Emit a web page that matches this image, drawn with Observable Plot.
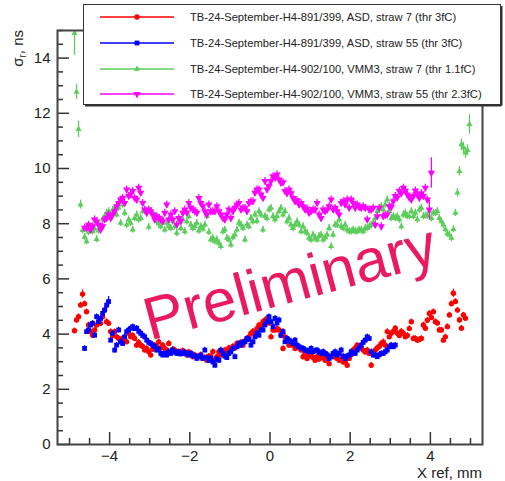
<!DOCTYPE html>
<html><head><meta charset="utf-8">
<script src="https://cdn.jsdelivr.net/npm/d3@7"></script>
<script src="https://cdn.jsdelivr.net/npm/@observablehq/plot@0.6"></script>
<style>
html,body{margin:0;padding:0;background:#fff;}
#wrap{position:relative;width:505px;height:481px;overflow:hidden;font-family:"Liberation Sans",Arial,sans-serif;background:#fff;}
#legend{position:absolute;left:83px;top:4px;}
</style></head><body><div id="wrap"></div>
<script>
// ---------- data (bin centres every 0.05 mm) ----------
const binWidth = 0.05;
const seriesLabels = [
  "TB-24-September-H4-891/399, ASD, straw 7 (thr 3fC)",
  "TB-24-September-H4-891/399, ASD, straw 55 (thr 3fC)",
  "TB-24-September-H4-902/100, VMM3, straw 7 (thr 1.1fC)",
  "TB-24-September-H4-902/100, VMM3, straw 55 (thr 2.3fC)"
];
const seriesColors = ["#ff0000", "#0000ff", "#5ccd5c", "#ff00ff"];
const seriesSymbols = ["circle", "square", "triangle", "triangle"];
const seriesRotate = [0, 0, 0, 180];

const redStart = -4.875;
const redValues = [
  4.12,4.51,4.63,5.05,5.45,5.1,4.81,4.33,4.09,3.96,
  4.15,4.33,4.45,4.39,4.63,4.87,4.45,4.39,4.09,3.96,
  4.09,3.9,3.84,3.72,3.85,3.78,3.72,4.03,3.9,3.95,
  3.84,3.6,3.7,3.6,3.55,3.42,3.48,3.36,3.24,3.45,
  3.6,3.55,3.72,3.5,3.6,3.48,3.42,3.66,3.36,3.45,
  3.42,3.35,3.3,3.36,3.4,3.3,3.24,3.35,3.3,3.18,
  3.24,3.2,3.18,3.25,3.12,3.15,3.05,3.2,3.18,3.36,
  3.05,3.18,3.36,3.24,3.3,3.42,3.35,3.5,3.42,3.55,
  3.5,3.66,3.6,3.7,3.6,3.75,3.84,3.9,4.03,4.1,
  4.03,4.2,4.33,4.3,4.45,4.5,4.57,4.4,3.9,4.15,
  4.15,4.2,4.15,3.96,3.48,3.9,3.75,3.6,3.7,3.6,
  3.48,3.54,3.5,3.42,3.18,3.3,3.12,3.2,3.24,3.15,
  3.05,3.18,3.1,3.24,3.15,3.05,3.1,2.93,3.2,3.18,
  3.18,3.12,3.05,3.1,2.99,3.0,2.87,3.12,3.25,3.42,
  3.5,3.6,3.54,3.5,3.42,3.35,3.42,3.3,2.87,3.3,
  3.42,3.5,3.55,3.66,3.72,3.6,4.09,3.9,4.03,4.1,
  4.21,4.03,3.95,4.1,4.03,3.9,3.95,4.2,4.45,3.84,
  3.84,3.78,3.8,3.84,4.33,4.21,4.5,4.75,4.6,4.81,
  4.45,4.4,4.15,4.15,3.78,3.9,4.27,4.69,5.1,5.48,
  5.18,4.87,4.51,4.21,4.69,4.57
];
const redErr = 0.1;
const redErrOverride = {4: 0.15, 189: 0.15};

const blueStart = -4.625;
const blueValues = [
  3.48,4.09,4.15,4.33,4.39,3.96,4.63,4.45,4.57,4.75,
  4.87,5.05,5.18,3.78,4.03,3.42,3.6,4.15,3.72,3.66,
  3.9,4.09,4.15,4.21,4.27,4.2,4.21,4.1,4.03,3.95,
  3.9,3.78,3.7,3.66,3.6,3.55,3.42,3.45,3.3,3.24,
  3.3,3.24,3.36,3.3,3.42,3.35,3.3,3.36,3.28,3.3,
  3.35,3.3,3.24,3.3,3.24,3.2,3.12,3.18,3.22,3.12,
  3.42,3.15,3.05,3.12,2.99,2.87,3.1,3.05,3.42,3.3,
  3.2,3.15,3.3,3.36,3.48,3.18,3.54,3.66,3.6,3.7,
  3.72,3.84,3.8,3.6,3.72,3.9,4.03,3.96,4.15,4.15,
  4.33,4.45,4.63,4.45,4.27,4.57,4.4,4.51,3.96,4.09,
  3.72,3.84,3.78,3.72,3.66,3.78,3.6,3.54,3.5,3.48,
  3.42,3.4,3.36,3.48,3.36,3.4,3.42,3.35,3.3,3.36,
  3.3,3.25,3.12,3.18,3.3,3.36,3.24,3.3,3.42,3.2,
  3.12,3.2,3.24,3.36,3.3,3.3,3.42,3.5,3.6,3.7,
  3.78,3.9,3.84,3.36,3.24,3.24,3.18,3.25,3.3,3.3,
  3.36,3.42,3.54,3.6,3.54,3.6
];
const blueErr = 0.1;
const blueErrOverride = {11: 0.15, 12: 0.18};

const greenStart = -4.875;
const greenValues = [
  14.9,12.77,11.42,8.69,7.76,7.52,7.36,7.7,7.8,7.72,
  7.82,7.44,7.75,7.9,8.15,8.27,8.39,8.45,8.2,8.5,
  8.57,8.33,8.58,8.03,8.69,8.39,7.96,8.15,8.03,7.78,
  8.2,8.33,8.15,8.2,8.45,8.45,8.45,7.88,8.45,8.33,
  8.3,8.08,8.0,7.9,8.15,7.78,8.03,7.9,7.84,8.08,
  7.9,7.66,8.1,7.84,8.15,7.72,8.08,8.27,7.96,7.84,
  7.9,8.03,7.75,7.9,7.82,7.96,8.27,7.7,7.42,7.48,
  7.36,7.42,7.3,7.18,7.72,7.78,7.48,7.42,7.24,7.5,
  7.6,7.78,8.03,7.96,7.85,7.42,7.96,7.9,8.2,8.08,
  8.33,8.1,8.45,8.33,7.78,8.27,8.2,8.51,8.57,8.27,
  8.15,8.27,8.45,8.57,8.33,8.45,8.08,8.2,7.96,7.84,
  7.96,8.08,7.96,7.72,7.9,7.72,7.66,7.48,7.42,7.6,
  7.48,7.42,7.55,7.6,7.42,7.5,7.6,7.84,7.18,7.6,
  7.96,7.96,8.15,7.9,7.84,7.96,7.78,7.72,7.72,7.78,
  7.72,7.72,7.78,7.78,7.72,7.84,7.84,7.9,7.95,8.03,
  8.2,8.45,8.54,8.63,8.51,8.69,8.87,8.45,8.2,8.27,
  8.2,8.27,8.15,7.9,8.33,8.39,8.27,8.27,8.45,8.27,
  8.39,8.15,8.51,8.57,8.27,8.29,8.29,8.45,8.2,8.39,
  8.39,8.45,8.2,8.08,7.96,7.8,7.64,7.6,7.48,7.8,
  8.39,9.12,9.9,10.87,10.75,10.57,10.66,11.6
];
const greenErr = 0.13;
const greenErrOverride = {0: 0.8, 1: 0.27, 2: 0.3, 3: 0.16, 191: 0.15, 192: 0.17, 193: 0.2, 194: 0.2, 195: 0.2, 196: 0.2, 197: 0.35};

const magentaStart = -4.625;
const magentaValues = [
  7.85,7.84,7.96,7.78,7.9,8.15,8.08,7.96,7.78,7.9,
  8.15,8.2,8.33,8.2,8.33,8.45,8.63,8.75,8.87,8.93,
  8.75,9.24,9.0,9.05,9.18,8.93,8.87,9.3,9.12,8.75,
  8.51,8.39,8.51,8.45,8.33,8.15,8.27,8.2,8.15,8.08,
  8.39,8.69,8.15,8.33,8.15,8.45,7.96,8.2,8.1,8.39,
  8.51,8.4,8.75,8.57,8.51,8.45,8.39,8.93,8.75,8.63,
  8.45,8.33,8.69,8.45,8.45,8.45,8.63,8.45,8.33,8.2,
  8.15,8.33,8.51,8.2,8.45,8.57,8.69,8.75,8.51,8.57,
  8.57,8.45,8.75,8.81,8.81,9.12,9.24,9.24,9.05,8.93,
  9.54,9.24,9.36,9.54,9.72,9.66,9.78,9.6,9.48,9.5,
  9.18,9.1,9.24,9.1,8.93,8.81,8.85,8.69,8.75,8.63,
  8.51,8.55,8.39,8.45,8.51,8.5,8.75,8.33,8.2,8.51,
  8.45,8.5,8.63,8.87,8.51,8.57,8.45,8.33,8.75,8.81,
  8.69,8.87,8.57,8.87,8.75,8.57,8.69,8.6,8.57,8.63,
  8.57,8.15,8.51,8.5,8.57,7.96,8.27,8.57,7.9,8.27,
  8.3,8.33,8.63,8.6,8.81,9.0,8.95,9.18,9.1,9.3,
  9.2,9.05,8.95,8.87,9.0,9.2,9.05,8.93,9.1,9.0,
  9.3,8.87,8.51,9.84
];
const magentaErr = 0.13;
const magentaErrOverride = {172: 0.35, 173: 0.55};

const xMajorTicks = [-4, -2, 0, 2, 4];
const xMinorTicks = [-5,-4.5,-3.5,-3,-2.5,-1.5,-1,-0.5,0.5,1,1.5,2.5,3,3.5,4.5,5];
const yMajorTicks = [0, 2, 4, 6, 8, 10, 12, 14];
const yMinorTicks = [0.5,1,1.5,2.5,3,3.5,4.5,5,5.5,6.5,7,7.5,8.5,9,9.5,10.5,11,11.5,12.5,13,13.5,14.5,15];
const xTitle = "X ref, mm";
const yTitleMain = "σ", yTitleSub = "r", yTitleRest = ", ns";
const watermark = {x: 0.5, y: 5.85, text: "Preliminary", angle: -15};

// ---------- build rows ----------
function rows(start, values, err, over) {
  return values.map((v, i) => ({x: start + i * binWidth, y: v, e: over[i] ?? err}));
}
const allSeries = [
  rows(redStart, redValues, redErr, redErrOverride),
  rows(blueStart, blueValues, blueErr, blueErrOverride),
  rows(greenStart, greenValues, greenErr, greenErrOverride),
  rows(magentaStart, magentaValues, magentaErr, magentaErrOverride)
];
const markerR = [2.7, 2.7, 2.3, 2.7];

const seriesMarks = allSeries.flatMap((data, s) => [
  Plot.ruleX(data, {x: "x", y1: d => d.y - d.e, y2: d => d.y + d.e, stroke: seriesColors[s], strokeWidth: 1.3, clip: true}),
  Plot.ruleY(data, {y: "y", x1: d => d.x - 0.025, x2: d => d.x + 0.025, stroke: seriesColors[s], strokeWidth: 1.3, clip: true}),
  Plot.dot(data, {x: "x", y: "y", symbol: seriesSymbols[s], r: markerR[s], fill: seriesColors[s], stroke: "none", rotate: seriesRotate[s], clip: true})
]);

const font = "'Liberation Sans', Arial, Helvetica, sans-serif";
const plot = Plot.plot({
  width: 505, height: 481,
  marginLeft: 57, marginRight: 23, marginTop: 30, marginBottom: 37,
  style: {fontFamily: font, fontSize: "15px", color: "#222", background: "transparent"},
  x: {domain: [-5.3, 5.3]},
  y: {domain: [0, 15]},
  marks: [
    Plot.text([watermark], {x: "x", y: "y", text: "text", rotate: watermark.angle, fontSize: 60, fill: "#ea1a5e", fontFamily: font, textAnchor: "middle", lineAnchor: "middle"}),
    ...seriesMarks,
    Plot.axisX(xMajorTicks, {tickSize: -12, tickPadding: 18, stroke: "#333", strokeWidth: 1.5, label: null, fontSize: 15}),
    Plot.axisX(xMinorTicks, {tickSize: -6, tickFormat: () => "", stroke: "#333", strokeWidth: 1.5, label: null}),
    Plot.axisY(yMajorTicks, {tickSize: -12, tickPadding: 19, stroke: "#333", strokeWidth: 1.5, label: null, fontSize: 15}),
    Plot.axisY(yMinorTicks, {tickSize: -6, tickFormat: () => "", stroke: "#333", strokeWidth: 1.5, label: null}),
    Plot.frame({stroke: "#444", strokeWidth: 2})
  ]
});

const svg = d3.select(plot);
svg.append("text").attr("x", 482).attr("y", 478).attr("text-anchor", "end")
  .attr("font-family", font).attr("font-size", 15).attr("fill", "#222").text(xTitle);
const yt = svg.append("text").attr("transform", "translate(23,30) rotate(-90)").attr("text-anchor", "end")
  .attr("font-family", font).attr("font-size", 15).attr("fill", "#222");
yt.append("tspan").text(yTitleMain);
yt.append("tspan").attr("font-size", 10).attr("dy", 3).text(yTitleSub);
yt.append("tspan").attr("dy", -3).text(yTitleRest);

const wrap = document.getElementById("wrap");
wrap.appendChild(plot);

// ---------- legend ----------
const lw = 420, lh = 103;
const leg = d3.create("svg").attr("id", "legend").attr("width", lw).attr("height", lh);
leg.append("rect").attr("x", 0.5).attr("y", 0.5).attr("width", lw - 3).attr("height", lh - 3).attr("fill", "#fff").attr("stroke", "#333").attr("stroke-width", 1);
leg.append("line").attr("x1", 2).attr("x2", lw - 1.5).attr("y1", lh - 1.5).attr("y2", lh - 1.5).attr("stroke", "#333").attr("stroke-width", 2);
leg.append("line").attr("x1", lw - 1.5).attr("x2", lw - 1.5).attr("y1", 2).attr("y2", lh - 1.5).attr("stroke", "#333").attr("stroke-width", 2);
const rowY = [13, 39, 65, 90];
const symMap = {circle: d3.symbolCircle, square: d3.symbolSquare, triangle: d3.symbolTriangle};
seriesLabels.forEach((lab, i) => {
  const g = leg.append("g").attr("transform", `translate(0,${rowY[i]})`);
  g.append("line").attr("x1", 17).attr("x2", 91).attr("stroke", seriesColors[i]).attr("stroke-width", 2).attr("stroke-opacity", 0.75);
  g.append("path").attr("d", d3.symbol(symMap[seriesSymbols[i]], Math.PI * markerR[i] * markerR[i])())
    .attr("transform", `translate(54,0) rotate(${seriesRotate[i]})`).attr("fill", seriesColors[i]);
  g.append("text").attr("x", 107).attr("y", 4).attr("font-family", font).attr("font-size", 11.2).attr("fill", "#222").text(lab);
});
wrap.appendChild(leg.node());
</script></body></html>
